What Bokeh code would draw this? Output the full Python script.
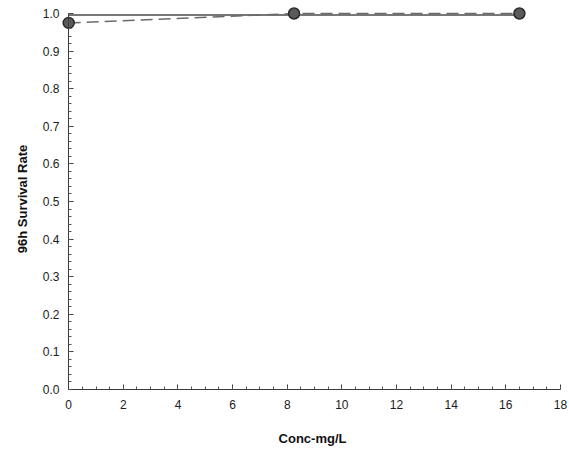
from bokeh.plotting import figure
from bokeh.models import Range1d, LinearAxis, SingleIntervalTicker, PrintfTickFormatter
from bokeh.embed import file_html
from bokeh.resources import INLINE

# data
conc = [0, 8.25, 16.5]
survival = [0.975, 1.0, 1.0]
fit_x = [0, 16.5]
fit_y = [0.996, 0.996]

p = figure(width=569, height=449, output_backend="svg", toolbar_location=None,
           x_range=Range1d(-0.3, 18.15), y_range=Range1d(-0.008, 1.0213),
           x_axis_type=None, y_axis_type=None,
           min_border_left=60, min_border_right=5, min_border_top=5, min_border_bottom=57)
p.outline_line_color = None
p.grid.visible = False
p.background_fill_color = "white"

xticker = SingleIntervalTicker(interval=2, num_minor_ticks=4)
yticker = SingleIntervalTicker(interval=0.1, num_minor_ticks=5)

# label-only axes at the frame edges
xlab = LinearAxis(ticker=xticker, axis_label="Conc-mg/L")
ylab = LinearAxis(ticker=yticker, axis_label="96h Survival Rate",
                  formatter=PrintfTickFormatter(format="%.1f"))
for ax in (xlab, ylab):
    ax.axis_line_color = None
    ax.major_tick_line_color = None
    ax.minor_tick_line_color = None
    ax.major_tick_out = 0
    ax.major_tick_in = 0
    ax.minor_tick_out = 0
    ax.minor_tick_in = 0
    ax.major_label_text_font = "Liberation Sans"
    ax.major_label_text_font_size = "12px"
    ax.major_label_text_color = "#1a1a1a"
    ax.axis_label_text_font = "Liberation Sans"
    ax.axis_label_text_font_size = "13px"
    ax.axis_label_text_font_style = "bold"
    ax.axis_label_text_color = "#111111"
xlab.major_label_standoff = 7
xlab.axis_label_standoff = 19
ylab.major_label_standoff = 1
ylab.axis_label_standoff = 10
p.add_layout(xlab, "below")
p.add_layout(ylab, "left")

# line/tick axes placed at data zero
xline = LinearAxis(ticker=xticker, fixed_location=0, bounds=(0, 18))
yline = LinearAxis(ticker=yticker, fixed_location=0, bounds=(0, 1.0))
for ax in (xline, yline):
    ax.major_tick_in = 5
    ax.major_tick_out = 0
    ax.minor_tick_in = 3
    ax.minor_tick_out = 0
    ax.axis_line_color = "#3a3a3a"
    ax.major_tick_line_color = "#3a3a3a"
    ax.minor_tick_line_color = "#555555"
    ax.major_label_text_font_size = "0px"
    ax.major_label_text_alpha = 0
    ax.major_label_standoff = 0
p.add_layout(xline, "below")
p.add_layout(yline, "left")

p.line(fit_x, fit_y, line_color="#4a4a4a", line_width=1.5)
p.line(conc, survival, line_color="#6a6a6a", line_width=1.5, line_dash="12 6")
p.scatter(conc, survival, size=11, fill_color="#5a5a5a", line_color="#2a2a2a", line_width=1.5)

open("out.html", "w").write(file_html(p, INLINE))
